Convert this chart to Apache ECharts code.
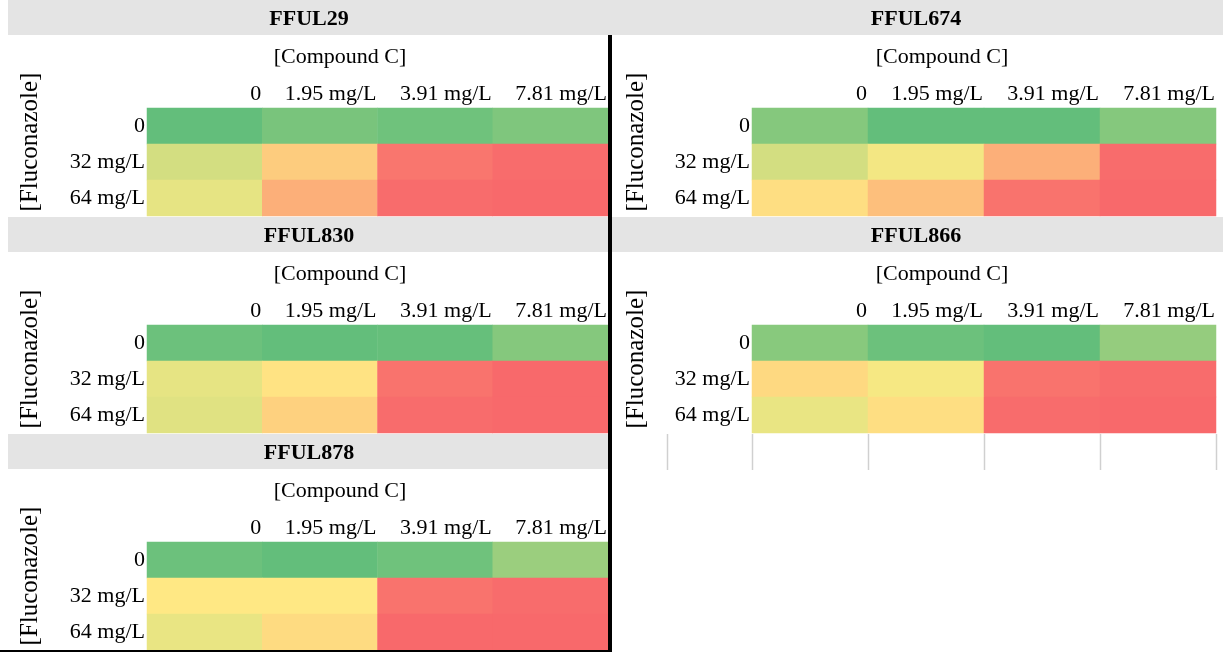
<!DOCTYPE html>
<html>
<head>
<meta charset="utf-8">
<title>Fluconazole × Compound C growth</title>
<script src="https://cdn.jsdelivr.net/npm/echarts@6/dist/echarts.min.js"></script>
<style>
  html, body { margin: 0; padding: 0; background: #fff; }
  #chart { width: 1223px; height: 652px; }
</style>
</head>
<body>
<div id="chart"></div>
<script>
// Isolates, one panel each
const isolates = ['FFUL29', 'FFUL674', 'FFUL830', 'FFUL866', 'FFUL878'];
// Column categories: Compound C concentration
const compoundC = ['0', '1.95 mg/L', '3.91 mg/L', '7.81 mg/L'];
// Row categories: fluconazole concentration
const fluconazole = ['0', '32 mg/L', '64 mg/L'];

// Relative growth (%) per isolate, rows = fluconazole, columns = Compound C
const growthFFUL29  = [[100, 93, 96, 91], [64, 38, 5, 1], [58, 27, 1, 0]];
const growthFFUL674 = [[89, 100, 100, 89], [64, 54, 27, 1], [45, 33, 4, 0]];
const growthFFUL830 = [[97, 100, 99, 89], [58, 47, 4, 0], [60, 40, 1, 0]];
const growthFFUL866 = [[88, 97, 100, 84], [43, 53, 4, 1], [57, 45, 1, 0]];
const growthFFUL878 = [[97, 100, 96, 82], [49, 49, 4, 1], [57, 44, 0, 0]];
const growthByIsolate = [growthFFUL29, growthFFUL674, growthFFUL830, growthFFUL866, growthFFUL878];

// ---- layout ----
const FONT = 'Liberation Serif';
const FS = 22;
const FS_SIDE = 25;
const PANEL_H = 217;
const HEADER_H = 35;
const colGeom = [
  { band: 8,   bandW: 604, gridL: 147, gridW: 461, title: 309, compound: 340, fluco: 30 },
  { band: 612, bandW: 611, gridL: 752, gridW: 464, title: 916, compound: 942, fluco: 636 }
];
const GRID_TOP = 108;
const GRID_H = 108;

const grids = [], xAxes = [], yAxes = [], series = [], graphics = [];

isolates.forEach((name, i) => {
  const c = i % 2, r = Math.floor(i / 2);
  const g = colGeom[c];
  const y0 = r * PANEL_H;
  const colW = g.gridW / compoundC.length;

  // header band and title
  graphics.push({
    type: 'rect', z: -10, silent: true,
    shape: { x: g.band, y: y0, width: g.bandW, height: HEADER_H },
    style: { fill: '#e4e4e4' }
  });
  graphics.push({
    type: 'text', silent: true, x: g.title, y: y0 + 19,
    style: { text: name, fontFamily: FONT, fontSize: FS, fontWeight: 'bold', fill: '#000',
             align: 'center', verticalAlign: 'middle' }
  });
  graphics.push({
    type: 'text', silent: true, x: g.compound, y: y0 + 57,
    style: { text: '[Compound C]', fontFamily: FONT, fontSize: FS, fill: '#000',
             align: 'center', verticalAlign: 'middle' }
  });
  graphics.push({
    type: 'text', silent: true, x: g.fluco, y: y0 + 142, rotation: Math.PI / 2,
    style: { text: '[Fluconazole]', fontFamily: FONT, fontSize: FS_SIDE, fill: '#000',
             align: 'center', verticalAlign: 'middle' }
  });

  grids.push({ left: g.gridL, top: y0 + GRID_TOP, width: g.gridW, height: GRID_H });
  xAxes.push({
    gridIndex: i, type: 'category', position: 'top', data: compoundC,
    axisLine: { show: false }, axisTick: { show: false }, splitLine: { show: false },
    axisLabel: {
      margin: 3, interval: 0,
      formatter: v => '{a|' + v + '}',
      rich: { a: { width: colW - 2, align: 'right', fontFamily: FONT, fontSize: FS, color: '#000' } }
    }
  });
  yAxes.push({
    gridIndex: i, type: 'category', inverse: true, data: fluconazole,
    axisLine: { show: false }, axisTick: { show: false }, splitLine: { show: false },
    axisLabel: { margin: 2, interval: 0, fontFamily: FONT, fontSize: FS, color: '#000',
                 verticalAlign: 'middle', padding: [10, 0, 0, 0] }
  });

  const cells = [];
  growthByIsolate[i].forEach((row, ri) => row.forEach((v, ci) => cells.push([ci, ri, v])));
  series.push({
    type: 'heatmap', name: name, xAxisIndex: i, yAxisIndex: i, data: cells,
    itemStyle: { borderWidth: 0 }, label: { show: false },
    emphasis: { disabled: true }
  });
});

// Empty spreadsheet row under FFUL866: faint cell borders
{
  const g = colGeom[1];
  const y0 = 2 * PANEL_H;
  const colW = g.gridW / compoundC.length;
  const xs = [667];
  for (let k = 0; k <= compoundC.length; k++) xs.push(g.gridL + k * colW);
  xs.forEach(x => graphics.push({
    type: 'line', silent: true,
    shape: { x1: Math.round(x) + 0.5, y1: y0, x2: Math.round(x) + 0.5, y2: y0 + 36 },
    style: { stroke: '#d0d0d0', lineWidth: 1.5 }
  }));
}

// Heavy separators between the panels
graphics.push({ type: 'rect', silent: true, z: 10,
  shape: { x: 608, y: HEADER_H, width: 4, height: 652 - HEADER_H }, style: { fill: '#000' } });
graphics.push({ type: 'rect', silent: true, z: 10,
  shape: { x: 0, y: 650, width: 612, height: 2 }, style: { fill: '#000' } });

const chart = echarts.init(document.getElementById('chart'), null, { renderer: 'canvas' });
chart.setOption({
  animation: false,
  backgroundColor: '#fff',
  grid: grids,
  xAxis: xAxes,
  yAxis: yAxes,
  visualMap: {
    show: false, type: 'continuous', min: 0, max: 100, dimension: 2,
    seriesIndex: series.map((_, k) => k),
    inRange: { color: ['#F8696B', '#FFEB84', '#63BE7B'] }
  },
  series: series,
  graphic: graphics
});
</script>
</body>
</html>
